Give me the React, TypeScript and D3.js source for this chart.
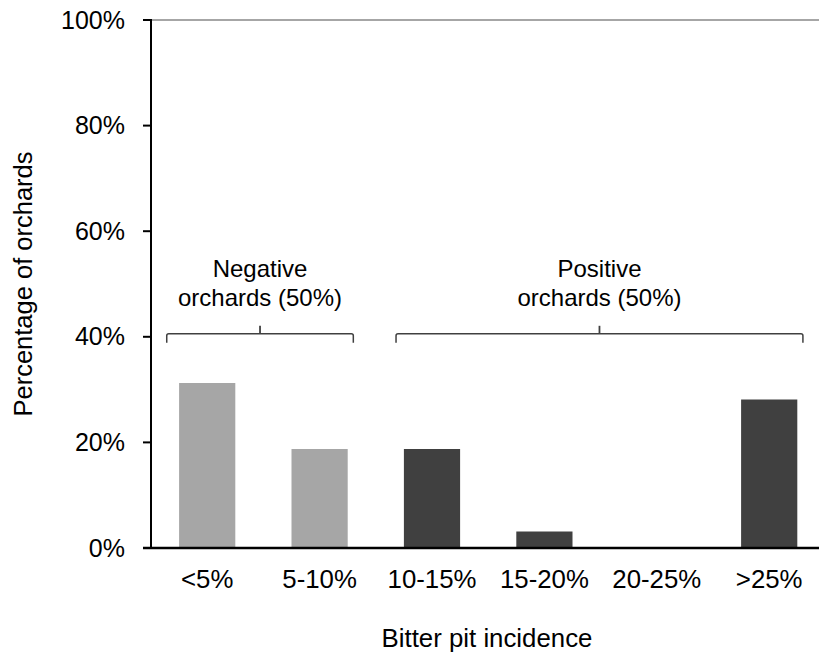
import React from "react";
import * as d3 from "d3";

const categories = ["<5%", "5-10%", "10-15%", "15-20%", "20-25%", ">25%"];
const values = [31.25, 18.75, 18.75, 3.125, 0, 28.125];
const groups = ["negative", "negative", "positive", "positive", "positive", "positive"];
const yTicks = [0, 20, 40, 60, 80, 100];
const brackets = [
  { first: 0, last: 1, line1: "Negative", line2: "orchards (50%)" },
  { first: 2, last: 5, line1: "Positive", line2: "orchards (50%)" },
];

const W = 819;
const H = 655;
const FONT = "'Liberation Sans', Arial, sans-serif";
const BRACKET_LEFT_PAD = [0.36, 0.32];

export default function App() {
  const left = 151;
  const step = 112.4;
  const x = d3
    .scaleBand<string>()
    .domain(categories)
    .range([left, left + step * categories.length])
    .paddingInner(0.5)
    .paddingOuter(0.25);
  const y = d3.scaleLinear().domain([0, 100]).range([548, 20]);
  const color = (g: string) => (g === "negative" ? "#a6a6a6" : "#404040");
  const cx = (i: number) => (x(categories[i]) as number) + x.bandwidth() / 2;
  const bStep = x.step();
  const yBr = y(40) - 3;

  return (
    <svg
      width={W}
      height={H}
      style={{ position: "absolute", left: 0, top: 0, background: "#fff" }}
      fontFamily={FONT}
    >
      {/* top gridline */}
      <line x1={left} x2={W} y1={y(100)} y2={y(100)} stroke="#a6a6a6" strokeWidth={2} />
      {/* bars */}
      {values.map((v, i) => (
        <rect
          key={i}
          x={x(categories[i])}
          width={x.bandwidth()}
          y={y(v)}
          height={y(0) - y(v)}
          fill={color(groups[i])}
        />
      ))}
      {/* y axis */}
      <line x1={left} x2={left} y1={y(100) - 1} y2={y(0)} stroke="#000" strokeWidth={2} />
      {yTicks.map((t) => (
        <g key={t}>
          <line x1={left - 8} x2={left} y1={y(t)} y2={y(t)} stroke="#000" strokeWidth={2} />
          <text x={left - 26} y={y(t) + 8.5} textAnchor="end" fontSize={25} fill="#000">
            {t}%
          </text>
        </g>
      ))}
      {/* x axis */}
      <line x1={left - 8} x2={W} y1={y(0)} y2={y(0)} stroke="#000" strokeWidth={2.5} />
      {categories.map((c, i) => (
        <text key={c} x={cx(i)} y={588} textAnchor="middle" fontSize={25.8} fill="#000">
          {c}
        </text>
      ))}
      {/* brackets */}
      {brackets.map((b, k) => {
        const x1 = cx(b.first) - bStep * BRACKET_LEFT_PAD[k];
        const x2 = cx(b.last) + bStep * 0.3;
        const xm = (x1 + x2) / 2;
        return (
          <g key={k}>
            <path
              d={`M${x1},${yBr + 9} L${x1},${yBr + 2} Q${x1},${yBr} ${x1 + 2},${yBr} L${x2 - 2},${yBr} Q${x2},${yBr} ${x2},${yBr + 2} L${x2},${yBr + 9}`}
              fill="none"
              stroke="#404040"
              strokeWidth={1.5}
            />
            <line x1={xm} x2={xm} y1={yBr} y2={yBr - 8} stroke="#404040" strokeWidth={1.8} />
            <text x={xm} y={276.5} textAnchor="middle" fontSize={24} fill="#000">
              {b.line1}
            </text>
            <text x={xm} y={306} textAnchor="middle" fontSize={24} fill="#000">
              {b.line2}
            </text>
          </g>
        );
      })}
      {/* axis titles */}
      <text x={487} y={646.5} textAnchor="middle" fontSize={25.8} fill="#000">
        Bitter pit incidence
      </text>
      <text
        transform={`translate(31.5,${(y(0) + y(100)) / 2}) rotate(-90)`}
        textAnchor="middle"
        fontSize={25.5}
        fill="#000"
      >
        Percentage of orchards
      </text>
    </svg>
  );
}
